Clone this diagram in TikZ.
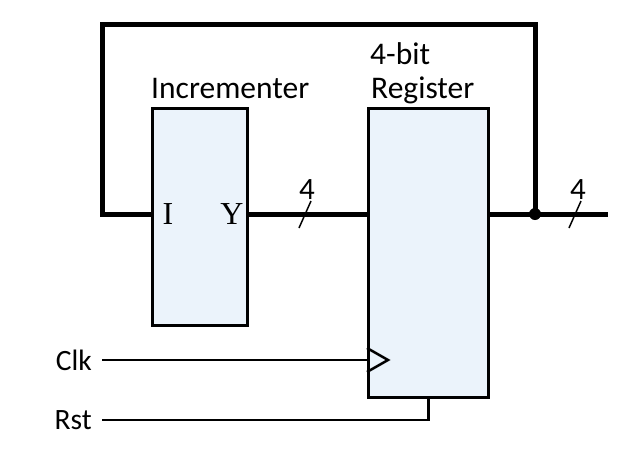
\documentclass[tikz,border=0pt]{standalone}
\usepackage{fontspec}
\setmainfont{Carlito}
\newfontfamily\pinfont{Liberation Serif}
\usetikzlibrary{positioning, calc}
\definecolor{blockfill}{RGB}{235,243,251}

\begin{document}
\begin{tikzpicture}[
  x=1pt, y=-1pt,
  font=\fontsize{31.5}{34}\selectfont,
  blockbox/.style={draw, line width=2.5pt, fill=blockfill, inner sep=0pt, anchor=north west},
  lbl/.style={inner sep=0pt, anchor=base west},
  portlbl/.style={inner sep=0pt, anchor=base, font=\pinfont\fontsize{32}{32}\selectfont},
  sigtxt/.style={inner sep=0pt, anchor=east, font=\fontsize{29.5}{30}\selectfont},
  widthtxt/.style={inner sep=0pt, font=\fontsize{31}{32}\selectfont},
  buswire/.style={line width=5pt},
  sigwire/.style={line width=2.5pt},
  busslash/.style={line width=1.5pt},
]
  \useasboundingbox (0,0) rectangle (638,456);

  % blocks
  \node[blockbox, minimum width=95pt, minimum height=217pt] (inc) at (151,107) {};
  \node[blockbox, minimum width=120pt, minimum height=289pt] (reg) at (367,107) {};

  \node[lbl] (inclbl) at (151,98) {Incrementer};
  \node[lbl] (reglbl1) at (370,64) {4-bit};
  \node[lbl] (reglbl2) at (371,98) {Register};

  \node[portlbl] (pinI) at (168,224) {I};
  \node[portlbl] (pinY) at (232,224) {Y};

  % bus and feedback
  \coordinate (tap) at (535,214);
  \coordinate (outend) at (608,214);
  \coordinate (loopl) at (102,24);
  \draw[buswire] (inc.north east |- tap) -- (reg.north west |- tap);
  \draw[buswire] (reg.north east |- tap) -- (outend);
  \draw[buswire] (tap) |- (loopl) |- (inc.north west |- tap);
  \fill (tap) circle (6pt);

  % bus widths
  \draw[busslash] (299,228) -- (311,201);
  \node[widthtxt] (w1) at (307,190) {4};
  \draw[busslash] (569,228) -- (581,201);
  \node[widthtxt] (w2) at (578,190) {4};

  % clock and reset
  \node[sigtxt] (clk) at (92,360) {Clk};
  \node[sigtxt] (rst) at (92,420) {Rst};
  \draw[sigwire] ($(clk.east)+(10,0)$) -- (reg.west |- clk);
  \draw[sigwire, line join=miter]
    ($(reg.west |- clk)+(0,-12)$) -- ($(reg.west |- clk)+(21,0)$) -- ($(reg.west |- clk)+(0,12)$);
  \draw[sigwire] ($(rst.east)+(10,0)$) -| (reg.south);
\end{tikzpicture}
\end{document}
